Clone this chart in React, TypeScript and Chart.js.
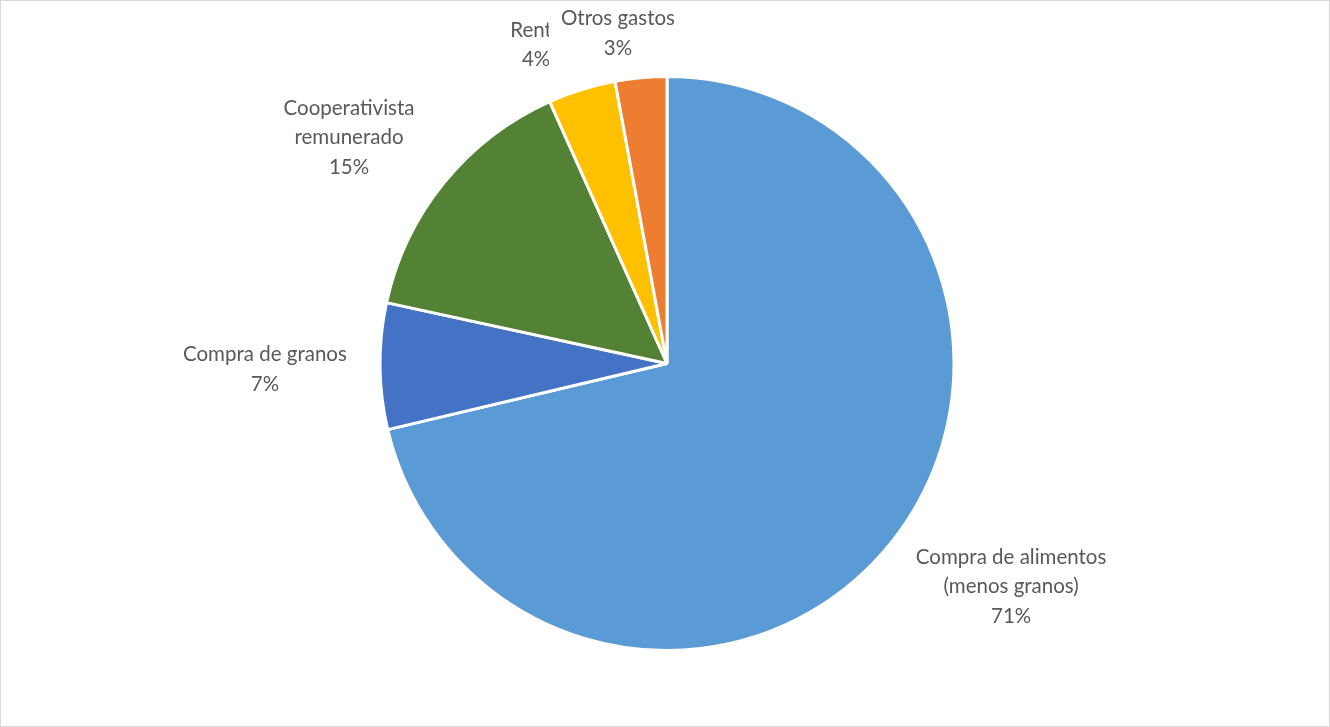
import React, { useEffect, useRef } from "react";
import { Chart, registerables } from "chart.js";

Chart.register(...registerables);

const categories = [
  ["Compra de alimentos", "(menos granos)"],
  ["Compra de granos"],
  ["Cooperativista", "remunerado"],
  ["Renta"],
  ["Otros gastos"],
];
const values = [71.3, 7.1, 14.9, 3.8, 2.9];
const percentLabels = ["71%", "7%", "15%", "4%", "3%"];
const colors = ["#5B9BD5", "#4472C4", "#548235", "#FFC000", "#ED7D31"];

// label anchor positions, as multiples of the pie radius from its centre
const labelOffsets = [
  [1.199, 0.777],
  [-1.401, 0.021],
  [-1.108, -0.787],
  [-0.456, -1.111],
  [-0.171, -1.15],
];

const FONT = "20.5px Lato, 'Open Sans', sans-serif";
const LINE_H = 29.5;

const labelPlugin = {
  id: "pieLabels",
  afterDatasetsDraw(chart: any) {
    const meta = chart.getDatasetMeta(0);
    const arc = meta.data[0];
    if (!arc) return;
    const { x, y, outerRadius } = arc.getProps(["x", "y", "outerRadius"], true);
    const ctx = chart.ctx;
    ctx.save();
    ctx.font = FONT;
    ctx.textAlign = "center";
    ctx.textBaseline = "middle";
    categories.forEach((cat, i) => {
      const lines = [...cat, percentLabels[i]];
      const cx = x + labelOffsets[i][0] * outerRadius;
      const cy = y + labelOffsets[i][1] * outerRadius;
      const top = cy - ((lines.length - 1) * LINE_H) / 2;
      let maxW = 0;
      lines.forEach((l) => (maxW = Math.max(maxW, ctx.measureText(l).width)));
      if (i === 4) {
        ctx.fillStyle = "#ffffff";
        ctx.fillRect(cx - maxW / 2 - 12, top - 16, maxW + 24, (lines.length - 1) * LINE_H + 32);
      }
      ctx.fillStyle = "#595959";
      lines.forEach((l, k) => ctx.fillText(l, cx, top + k * LINE_H));
    });
    ctx.restore();
  },
};

export default function App() {
  const ref = useRef<HTMLCanvasElement | null>(null);
  useEffect(() => {
    document.body.style.margin = "0";
    const chart = new Chart(ref.current as HTMLCanvasElement, {
      type: "pie",
      data: {
        labels: categories.map((c) => c.join(" ")),
        datasets: [
          {
            data: values,
            backgroundColor: colors,
            borderColor: "#ffffff",
            borderWidth: 3,
          },
        ],
      },
      options: {
        animation: false,
        responsive: false,
        layout: { padding: { left: 4, right: 0, top: 74, bottom: 74 } },
        plugins: { legend: { display: false }, tooltip: { enabled: false } },
      },
      plugins: [labelPlugin],
    });
    return () => chart.destroy();
  }, []);
  return (
    <div
      style={{
        position: "absolute",
        left: 0,
        top: 0,
        width: 1328,
        height: 725,
        border: "1px solid #d9d9d9",
        background: "#ffffff",
      }}
    >
      <canvas ref={ref} width={1328} height={725} style={{ display: "block" }} />
    </div>
  );
}
